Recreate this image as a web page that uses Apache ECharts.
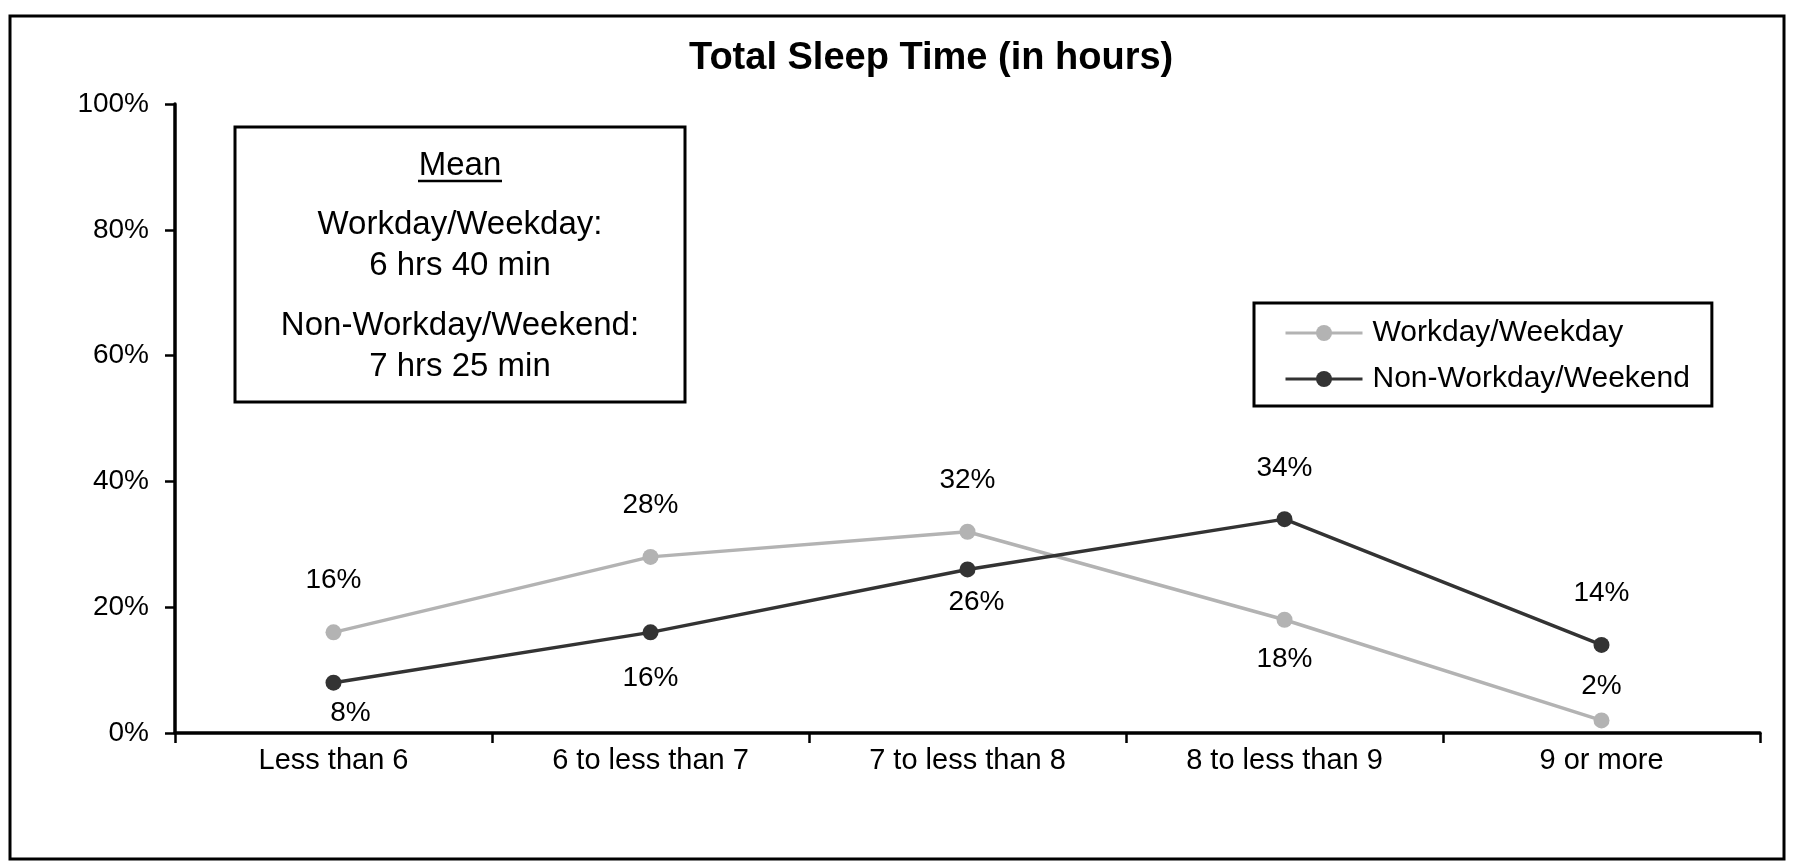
<!DOCTYPE html>
<html>
<head>
<meta charset="utf-8">
<title>Total Sleep Time (in hours)</title>
<script src="https://cdn.jsdelivr.net/npm/echarts@6/dist/echarts.min.js"></script>
<style>
    html, body { margin: 0; padding: 0; background: #fff; }
    #chart-sleep { width: 1798px; height: 863px; }
</style>
</head>
<body>
<div id="chart-sleep"></div>
<script>
var categories = ['Less than 6', '6 to less than 7', '7 to less than 8', '8 to less than 9', '9 or more'];
var seriesNames = ['Workday/Weekday', 'Non-Workday/Weekend'];
var workdayValues = [16, 28, 32, 18, 2];
var weekendValues = [8, 16, 26, 34, 14];
var yTicks = [0, 20, 40, 60, 80, 100];
var meanLines = ['Workday/Weekday:', '6 hrs 40 min', 'Non-Workday/Weekend:', '7 hrs 25 min'];

// where each data label sits, relative to its point
var workdayLabelPlace = [['top', 30, 0], ['top', 30, 0], ['top', 29, 0], ['bottom', 18, 0], ['top', 12, 0]];
var weekendLabelPlace = [['bottom', 9, 17], ['bottom', 24, 0], ['bottom', 11, 9], ['top', 29, 0], ['top', 30, 0]];

var FONT = '"Liberation Sans", Arial, sans-serif';

window.onload = () => {
    InitChart();
};

function buildData(values, places) {
    return values.map((v, i) => {
        return {
            value: v,
            label: {
                position: places[i][0],
                distance: places[i][1],
                offset: [places[i][2], 0]
            }
        };
    });
}

function InitChart() {
    var chartDom = document.getElementById('chart-sleep');
    var myChart = echarts.init(chartDom, null, { renderer: 'canvas' });
    var option;

    var meanY = [225, 266, 326, 367];
    var graphics = [
        // outer frame
        { type: 'rect', shape: { x: 10, y: 16, width: 1774, height: 843 },
          style: { fill: 'none', stroke: '#000', lineWidth: 3 }, z: 0 },
        // mean box
        { type: 'rect', shape: { x: 235, y: 127, width: 450, height: 275 },
          style: { fill: '#fff', stroke: '#000', lineWidth: 3 }, z: 10 },
        { type: 'text', x: 460, y: 166, z: 11,
          style: { text: 'Mean', font: '33px ' + FONT, fill: '#000', align: 'center', verticalAlign: 'middle' } },
        { type: 'line', shape: { x1: 418, y1: 181, x2: 502, y2: 181 },
          style: { stroke: '#000', lineWidth: 2.5 }, z: 11 }
    ];
    meanLines.forEach((t, i) => {
        graphics.push({ type: 'text', x: 460, y: meanY[i], z: 11,
            style: { text: t, font: '33px ' + FONT, fill: '#000', align: 'center', verticalAlign: 'middle' } });
    });

    option = {
        backgroundColor: '#fff',
        animation: false,
        textStyle: { fontFamily: FONT },
        title: {
            text: 'Total Sleep Time (in hours)',
            left: 689,
            top: 40,
            padding: 0,
            textStyle: { fontSize: 38, fontWeight: 'bold', color: '#000', fontFamily: FONT }
        },
        legend: {
            orient: 'vertical',
            left: 1254,
            top: 303,
            data: seriesNames,
            backgroundColor: '#fff',
            borderColor: '#000',
            borderWidth: 3,
            borderRadius: 0,
            padding: [15, 22, 12, 30],
            itemGap: 16,
            itemWidth: 77,
            itemHeight: 20,
            lineStyle: { width: 3 },
            textStyle: { fontSize: 30, color: '#000', fontFamily: FONT, padding: [0, 0, 0, 5] }
        },
        grid: {
            left: 175,
            right: 38,
            top: 104,
            bottom: 130,
            containLabel: false
        },
        xAxis: {
            type: 'category',
            data: categories,
            boundaryGap: true,
            axisLine: { lineStyle: { color: '#000', width: 3.5 } },
            axisTick: { show: true, length: 10, lineStyle: { color: '#000', width: 2.5 } },
            axisLabel: { fontSize: 29, color: '#000', margin: 13, fontFamily: FONT, interval: 0 },
            splitLine: { show: false }
        },
        yAxis: {
            type: 'value',
            min: yTicks[0],
            max: yTicks[yTicks.length - 1],
            interval: yTicks[1] - yTicks[0],
            axisLine: { show: true, lineStyle: { color: '#000', width: 3.5 } },
            axisTick: { show: true, length: 10, lineStyle: { color: '#000', width: 2.5 } },
            axisLabel: { fontSize: 28, color: '#000', margin: 26, fontFamily: FONT, formatter: '{value}%' },
            splitLine: { show: false }
        },
        series: [{
            name: seriesNames[0],
            type: 'line',
            data: buildData(workdayValues, workdayLabelPlace),
            symbol: 'circle',
            symbolSize: 16,
            color: '#b3b3b3',
            lineStyle: { color: '#b3b3b3', width: 3.5 },
            itemStyle: { color: '#b3b3b3' },
            label: { show: true, fontSize: 28, color: '#000', fontFamily: FONT, formatter: '{c}%' },
            z: 3
        }, {
            name: seriesNames[1],
            type: 'line',
            data: buildData(weekendValues, weekendLabelPlace),
            symbol: 'circle',
            symbolSize: 16,
            color: '#333333',
            lineStyle: { color: '#333333', width: 3.5 },
            itemStyle: { color: '#333333' },
            label: { show: true, fontSize: 28, color: '#000', fontFamily: FONT, formatter: '{c}%' },
            z: 4
        }],
        graphic: graphics
    };

    myChart.setOption(option);
}
</script>
</body>
</html>
